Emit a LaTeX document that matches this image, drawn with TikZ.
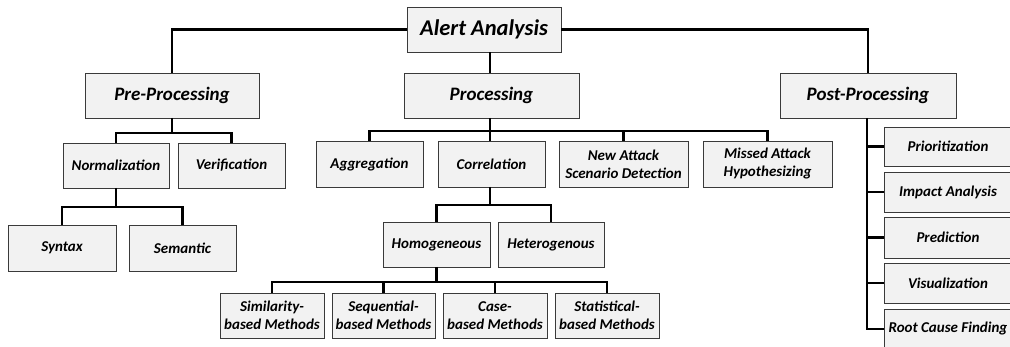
\documentclass[tikz,border=0pt]{standalone}
\usepackage{fontspec}
\setmainfont{Carlito}
\usetikzlibrary{calc}
\definecolor{boxfill}{HTML}{F2F2F2}
\definecolor{boxline}{HTML}{3A3A3A}
\begin{document}
\begin{tikzpicture}[x=1pt,y=-1pt,
  box/.style={draw=boxline, fill=boxfill, line width=0.9pt, inner sep=1pt,
    outer sep=0pt, align=center, text=black,
    font=\bfseries\itshape\fontsize{15}{18}\selectfont},
  topbox/.style={box, font=\bfseries\itshape\fontsize{19}{22}\selectfont},
  rootbox/.style={box, font=\bfseries\itshape\fontsize{22.5}{26}\selectfont},
  link/.style={draw=black, line width=2.7pt}]
\useasboundingbox (0,0) rectangle (1010,347);
\clip (0,0) rectangle (1010,347);

% root and first level
\node[rootbox, minimum width=154, minimum height=45] (aa) at (484,29.5) {Alert Analysis};
\node[topbox, minimum width=174, minimum height=45] (pre) at (172,95.5) {Pre-Processing};
\node[topbox, minimum width=175, minimum height=45] (proc) at (491.5,95.5) {Processing};
\node[topbox, minimum width=176, minimum height=45] (post) at (868,95.5) {Post-Processing};

% pre-processing branch
\node[box, minimum width=106, minimum height=45] (norm) at (116,165.5) {Normalization};
\node[box, minimum width=107, minimum height=45] (verif) at (231.5,165.5) {Verification};
\node[box, minimum width=108, minimum height=46] (syn) at (62,248) {Syntax};
\node[box, minimum width=107, minimum height=46] (sem) at (182.5,248) {Semantic};

% processing branch
\node[box, minimum width=107, minimum height=46] (aggr) at (369.5,164) {Aggregation};
\node[box, minimum width=107, minimum height=46] (corr) at (491.5,164) {Correlation};
\node[box, minimum width=129, minimum height=46] (newatt) at (623.5,164) {New Attack\\Scenario Detection};
\node[box, minimum width=129, minimum height=46] (missed) at (767.5,164) {Missed Attack\\Hypothesizing};
\node[box, minimum width=107, minimum height=45] (homo) at (436.5,244.5) {Homogeneous};
\node[box, minimum width=106, minimum height=45] (hete) at (551,244.5) {Heterogenous};
\node[box, minimum width=104, minimum height=45] (sim) at (272,315.5) {Similarity-\\based Methods};
\node[box, minimum width=103, minimum height=45] (seq) at (383.5,315.5) {Sequential-\\based Methods};
\node[box, minimum width=104, minimum height=45] (case) at (495,315.5) {Case-\\based Methods};
\node[box, minimum width=104, minimum height=45] (stat) at (607,315.5) {Statistical-\\based Methods};

% post-processing branch
\node[box, minimum width=128, minimum height=39] (prio) at (948,146.5) {Prioritization};
\node[box, minimum width=128, minimum height=40] (impact) at (948,192) {Impact Analysis};
\node[box, minimum width=128, minimum height=41] (pred) at (948,237.5) {Prediction};
\node[box, minimum width=128, minimum height=40] (vis) at (948,283) {Visualization};
\node[box, minimum width=128, minimum height=40] (rootc) at (948,329) {Root Cause Finding};

% bus levels
\coordinate (prebus) at (0,133);
\coordinate (procbus) at (0,131);
\coordinate (normbus) at (0,207);
\coordinate (corrbus) at (0,205);
\coordinate (homobus) at (0,282);
\coordinate (postrail) at (867,0);

% connectors from the root
\draw[link] (aa.west) -| (pre.north);
\draw[link] (aa.east) -| (post.north);
\draw[link] (proc.north -| 490,0) -- (aa.south -| 490,0);

% pre-processing connectors
\draw[link] (pre.south) -- (pre.south |- prebus);
\draw[link] (norm.north) -- (norm.north |- prebus) -- (verif.north |- prebus) -- (verif.north);
\draw[link] (norm.south) -- (norm.south |- normbus);
\draw[link] (syn.north) -- (syn.north |- normbus) -- (sem.north |- normbus) -- (sem.north);

% processing connectors
\draw[link] (proc.south -| 490,0) -- (procbus -| 490,0);
\draw[link] (aggr.north) -- (aggr.north |- procbus) -- (missed.north |- procbus) -- (missed.north);
\draw[link] (corr.north -| 490,0) -- (procbus -| 490,0);
\draw[link] (newatt.north) -- (newatt.north |- procbus);
\draw[link] (corr.south -| 490,0) -- (corrbus -| 490,0);
\draw[link] (homo.north) -- (homo.north |- corrbus) -- (hete.north |- corrbus) -- (hete.north);
\draw[link] (homo.south) -- (homo.south |- homobus);
\draw[link] (sim.north) -- (sim.north |- homobus) -- (stat.north |- homobus) -- (stat.north);
\draw[link] (seq.north) -- (seq.north |- homobus);
\draw[link] (case.north) -- (case.north |- homobus);

% post-processing rail
\draw[link] (post.south -| postrail) -- (rootc.west -| postrail) -- (rootc.west);
\foreach \n in {prio,impact,pred,vis}
  \draw[link] (\n.west -| postrail) -- (\n.west);
\end{tikzpicture}
\end{document}
